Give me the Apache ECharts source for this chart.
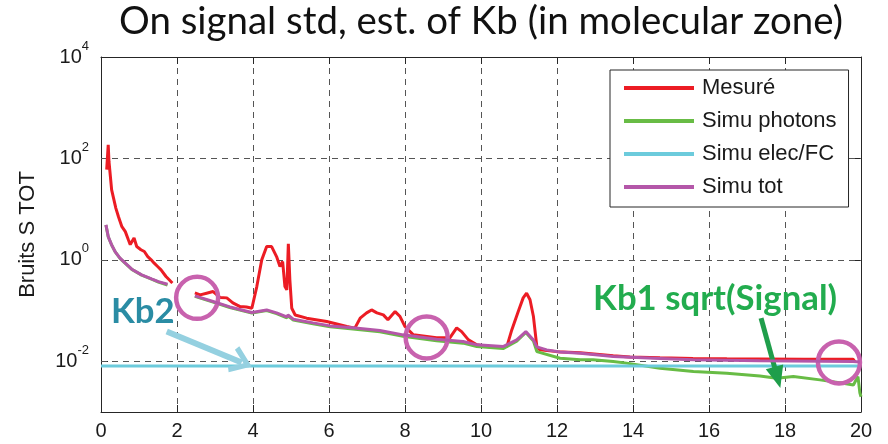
<!DOCTYPE html>
<html><head><meta charset="utf-8">
<script src="https://cdn.jsdelivr.net/npm/echarts@6/dist/echarts.min.js"></script>
<style>html,body{margin:0;padding:0;background:#fff}#c{width:888px;height:444px}</style>
</head><body><div id="c"></div>
<script>
// ---------- DATA ----------
const titleText = 'On signal std, est. of Kb (in molecular zone)';
const yAxisName = 'Bruits S TOT';
const seriesNames = ['Mesuré', 'Simu photons', 'Simu elec/FC', 'Simu tot'];
const xTickInterval = 2;
const yLabelValues = [0.01, 1, 100, 10000];
const yGridValues = [0.01, 1, 100];

const mesure = [
  [0.15,60],[0.19,185],[0.21,87],[0.24,81],[0.28,24],[0.33,16.5],[0.39,10.5],[0.46,7.1],[0.55,4.5],
  [0.64,3.6],[0.72,2.5],[0.77,2.0],[0.87,2.7],[0.94,1.83],[1.05,1.58],[1.14,1.46],[1.23,1.16],[1.32,1.0],
  [1.4,0.86],[1.49,0.74],[1.58,0.635],[1.71,0.47],[1.84,0.373],[1.88,0.35],
  [2.2,'-'],
  [2.47,0.223],[2.61,0.204],[2.78,0.22],[2.95,0.237],[3.13,0.182],[3.31,0.178],[3.47,0.142],[3.66,0.12],
  [3.83,0.118],[3.97,0.111],[4.10,0.297],[4.23,1.0],[4.36,1.83],[4.49,1.83],[4.62,1.16],[4.71,0.738],
  [4.78,0.925],[4.84,0.297],[4.89,0.256],[4.93,2.07],[4.97,0.403],[5.02,0.111],[5.11,0.082],[5.41,0.0708],
  [5.94,0.0607],[6.47,0.0484],[6.68,0.045],[6.82,0.0708],[6.99,0.09],[7.12,0.103],[7.26,0.09],[7.43,0.0822],
  [7.55,0.0656],[7.74,0.0955],[7.87,0.0762],[8.0,0.0484],[8.22,0.0332],[8.83,0.029],[9.18,0.029],[9.36,0.0456],
  [9.49,0.0385],[9.67,0.0264],[9.89,0.0211],[10.24,0.0192],[10.68,0.0195],[10.81,0.0416],[10.98,0.0955],
  [11.11,0.178],[11.2,0.22],[11.29,0.163],[11.38,0.0762],[11.47,0.0192],[11.55,0.0168],[11.99,0.0155],
  [12.61,0.0147],[13.48,0.0128],[13.92,0.0122],[14.71,0.0117],[15.58,0.0114],[16.47,0.0112],[17.34,0.0111],
  [18.5,0.011],[19.79,0.011],[19.84,0.0098]
];
const simuPhotons = [
  [0.13,4.85],[0.19,2.85],[0.28,1.96],[0.37,1.45],[0.5,1.07],[0.64,0.85],[0.81,0.65],[1.07,0.5],[1.33,0.415],
  [1.51,0.366],[1.75,0.32],
  [2.2,'-'],
  [2.47,0.19],[2.95,0.147],[3.39,0.115],[3.97,0.089],[4.36,0.1],[4.62,0.087],[4.89,0.072],[4.92,0.079],
  [5.06,0.065],[5.58,0.055],[6.03,0.048],[6.63,0.0435],[7.34,0.038],[7.95,0.031],[8.83,0.0255],[9.53,0.0228],
  [9.89,0.0195],[10.58,0.0178],[10.94,0.025],[11.18,0.037],[11.38,0.025],[11.47,0.0155],[12.08,0.0115],
  [12.61,0.0107],[12.95,0.0107],[13.48,0.0099],[13.83,0.0092],[14.71,0.0073],[15.59,0.0063],[16.47,0.0058],
  [17.34,0.00515],[17.78,0.00465],[18.22,0.005],[18.92,0.0043],[19.53,0.0037],[19.8,0.0034],[19.92,0.005],
  [19.97,0.0024],[20,0.002]
];
const simuElec = [[0,0.0081],[20,0.0081]];
const simuTot = [
  [0.13,4.9],[0.19,2.88],[0.28,1.98],[0.37,1.46],[0.5,1.08],[0.64,0.86],[0.81,0.655],[1.07,0.506],[1.33,0.422],
  [1.51,0.373],[1.75,0.33],
  [2.2,'-'],
  [2.47,0.195],[2.95,0.151],[3.39,0.118],[3.97,0.0914],[4.36,0.103],[4.62,0.09],[4.89,0.075],[4.92,0.0822],
  [5.06,0.0676],[5.58,0.0572],[6.03,0.0499],[6.63,0.0456],[7.34,0.0403],[7.95,0.0332],[8.83,0.0273],
  [9.53,0.0245],[9.89,0.0211],[10.58,0.0195],[10.94,0.0264],[11.18,0.0385],[11.38,0.0264],[11.47,0.0192],
  [11.73,0.0168],[12.08,0.0153],[12.61,0.0144],[13.48,0.0124],[14.71,0.0114],[15.59,0.0107],[17.34,0.0102],
  [19.79,0.0099],[19.97,0.0097]
];
// annotations (data space)
const circleSpots = [[2.53,0.178],[8.57,0.0296],[19.42,0.0095]];
const kb2Text = 'Kb2';
const kb2Spot = [1.1,0.094];
const kb1Text = 'Kb1 sqrt(Signal)';
const kb1Spot = [16.16,0.174];
const kb2Arrow = [[1.73,0.0385],[3.70,0.0095]];
const kb1Arrow = [[17.37,0.0708],[17.80,0.0048]];

// ---------- STYLE ----------
const SANS = '"Liberation Sans", Arial, Helvetica, sans-serif';
const HUM = 'Lato, "Open Sans", sans-serif';
const colors = ['#ec1c24', '#68bc45', '#6ccbdc', '#b457a9'];
const ctx = document.createElement('canvas').getContext('2d');
function fitSize(text, weight, target) {
  ctx.font = weight + ' 100px Lato';
  return 100 * target / ctx.measureText(text).width;
}
const titleSize = fitSize(titleText, 'normal', 724);
ctx.font = 'normal ' + titleSize + 'px Lato';
const titleW = ctx.measureText(titleText).width;
const kbSize = fitSize(kb1Text, 'bold', 244);

function yFmt(v) {
  const e = Math.round(Math.log10(v));
  if (e % 2 !== 0 || e < -2) return '';
  return '{b|10}{s|' + e + '}';
}
const axisCol = '#262626';
const gridCol = '#555555';

const chart = echarts.init(document.getElementById('c'), null, {renderer: 'canvas'});
chart.setOption({
  animation: false,
  backgroundColor: '#ffffff',
  title: {
    text: titleText, left: 481 - titleW / 2, top: 3, padding: 0,
    textStyle: {fontFamily: HUM, fontWeight: 'normal', fontSize: titleSize, color: '#111'}
  },
  grid: {left: 101, right: 27, top: 57, bottom: 32, containLabel: false},
  legend: {
    data: seriesNames, orient: 'vertical', left: 610, top: 70,
    padding: [7, 12, 9, 14], itemWidth: 70, itemHeight: 4, itemGap: 11, icon: 'rect',
    borderColor: axisCol, borderWidth: 1, backgroundColor: '#fff', selectedMode: false,
    textStyle: {fontFamily: SANS, fontSize: 22, lineHeight: 22, color: '#1a1a1a', padding: [0, 0, 0, 3]}
  },
  xAxis: [{
    type: 'value', min: 0, max: 20, interval: xTickInterval, position: 'bottom',
    axisLine: {show: true, onZero: false, lineStyle: {color: axisCol, width: 1}},
    axisTick: {show: true, inside: true, length: 7, lineStyle: {color: axisCol}},
    axisLabel: {margin: 9, fontFamily: SANS, fontSize: 20, color: '#1a1a1a'},
    splitLine: {show: true, lineStyle: {color: gridCol, type: [6, 5], width: 1}}
  }, {
    type: 'value', min: 0, max: 20, interval: xTickInterval, position: 'top',
    axisLine: {show: true, onZero: false, lineStyle: {color: axisCol, width: 1}},
    axisTick: {show: true, inside: true, length: 7, lineStyle: {color: axisCol}},
    axisLabel: {show: false}, splitLine: {show: false}
  }],
  yAxis: [{
    type: 'log', logBase: 10, min: 0.001, max: 10000, position: 'left',
    axisLine: {show: true, onZero: false, lineStyle: {color: axisCol, width: 1}},
    axisTick: {show: true, inside: true, length: 7, lineStyle: {color: axisCol}, customValues: yLabelValues},
    axisLabel: {
      margin: 12, formatter: yFmt, color: '#1a1a1a',
      rich: {
        b: {fontFamily: SANS, fontSize: 20, color: '#1a1a1a'},
        s: {fontFamily: SANS, fontSize: 13, color: '#1a1a1a', padding: [0, 0, 22, 0]}
      }
    },
    splitLine: {show: false}, minorTick: {show: false},
    name: yAxisName, nameLocation: 'middle', nameGap: 62, nameRotate: 90,
    nameTextStyle: {fontFamily: SANS, fontSize: 22, color: '#1a1a1a'}
  }, {
    type: 'log', logBase: 10, min: 0.001, max: 10000, position: 'right',
    axisLine: {show: true, onZero: false, lineStyle: {color: axisCol, width: 1}},
    axisTick: {show: true, inside: true, length: 7, lineStyle: {color: axisCol}, customValues: yGridValues},
    axisLabel: {show: false}, splitLine: {show: false}
  }],
  series: [
    {
      name: seriesNames[0], type: 'line', data: mesure, color: colors[0], showSymbol: false, symbol: 'none',
      lineStyle: {width: 3, color: colors[0]}, connectNulls: false, z: 2,
      markLine: {
        silent: true, z: 1, symbol: ['none', 'none'], label: {show: false},
        lineStyle: {color: gridCol, type: [6, 5], width: 1},
        data: yGridValues.map(v => ({yAxis: v}))
      }
    },
    {
      name: seriesNames[1], type: 'line', data: simuPhotons, color: colors[1], showSymbol: false, symbol: 'none',
      lineStyle: {width: 3, color: colors[1]}, connectNulls: false, z: 3
    },
    {
      name: seriesNames[2], type: 'line', data: simuElec, color: colors[2], showSymbol: false, symbol: 'none',
      lineStyle: {width: 3, color: colors[2]}, z: 4,
      markLine: {
        silent: true, label: {show: false}, animation: false,
        data: [
          [
            {coord: kb2Arrow[0], symbol: 'none', lineStyle: {color: '#94d0e0', width: 6, type: 'solid'}},
            {coord: kb2Arrow[1], symbol: 'path://M10,0 L20,14 L16.5,16 L10,6.5 L3.5,16 L0,14 Z', symbolSize: [28, 22]}
          ],
          [
            {coord: kb1Arrow[0], symbol: 'none', lineStyle: {color: '#1f9e4b', width: 5, type: 'solid'}},
            {coord: kb1Arrow[1], symbol: 'triangle', symbolSize: [18, 22]}
          ]
        ]
      }
    },
    {
      name: seriesNames[3], type: 'line', data: simuTot, color: colors[3], showSymbol: false, symbol: 'none',
      lineStyle: {width: 3, color: colors[3]}, connectNulls: false, z: 5,
      markPoint: {
        silent: true, animation: false,
        data: circleSpots.map(c => ({
          coord: c, symbol: 'circle', symbolSize: 42,
          itemStyle: {color: 'rgba(0,0,0,0)', borderColor: '#c862ae', borderWidth: 4.5},
          label: {show: false}
        })).concat([
          {coord: kb2Spot, symbol: 'circle', symbolSize: 1, itemStyle: {color: 'rgba(0,0,0,0)'},
           label: {show: true, position: 'inside', formatter: kb2Text, fontFamily: HUM, fontWeight: 'bold', fontSize: kbSize, color: '#2a8ca4'}},
          {coord: kb1Spot, symbol: 'circle', symbolSize: 1, itemStyle: {color: 'rgba(0,0,0,0)'},
           label: {show: true, position: 'inside', formatter: kb1Text, fontFamily: HUM, fontWeight: 'bold', fontSize: kbSize, color: '#22ac4e'}}
        ])
      }
    }
  ]
});
</script>
</body></html>
